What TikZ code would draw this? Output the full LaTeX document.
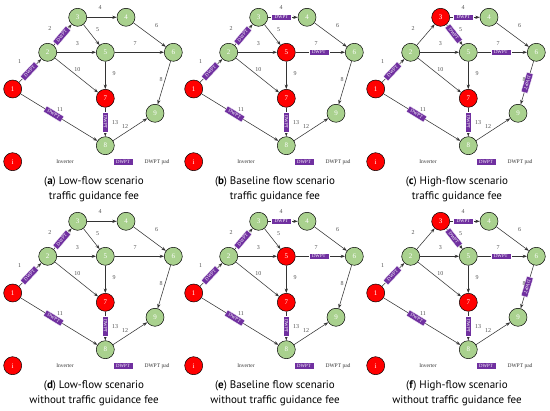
\documentclass[tikz,border=0pt]{standalone}
\usepackage{fontspec}
\setmainfont{Liberation Serif}
\newfontfamily\capfont{PT Sans}
\usetikzlibrary{arrows.meta}
\definecolor{ngreen}{RGB}{169,209,142}
\definecolor{nred}{RGB}{255,0,0}
\definecolor{dpurple}{RGB}{112,48,160}
\definecolor{elab}{RGB}{80,80,80}
\tikzset{
 vtx/.style={circle,draw=black,line width=0.5pt,minimum size=18pt,inner sep=0pt,font=\fontsize{7}{7}\selectfont,text=white,fill=ngreen},
 hot/.style={fill=nred},
 edg/.style={draw=black!80,line width=0.55pt,-{Stealth[length=4.5pt,width=3.2pt]}},
 pad/.style={fill=dpurple,draw=white,line width=0.3pt,text=white,font=\fontsize{4.8}{5}\selectfont,minimum width=20pt,minimum height=6.5pt,inner sep=0pt},
 elbl/.style={text=elab,font=\fontsize{6}{6}\selectfont,inner sep=0pt},
 legtxt/.style={text=black!80,font=\fontsize{5.5}{6}\selectfont,inner sep=0pt},
 captxt/.style={font=\capfont\fontsize{11}{13}\selectfont,inner sep=0pt},
 onedge/.style={pad,sloped,allow upside down,pos=#1},
}
% #1 prefix, #2 xoff, #3 yoff, #4 type (1 low, 2 base, 3 high), #5 caption line 1, #6 caption line 2
\newcommand\drawpanel[6]{%
\begin{scope}[shift={(#2,#3)}]
 \ifnum#4=3 \tikzset{nthree/.style={hot}}\else\tikzset{nthree/.style={}}\fi
 \ifnum#4=2 \tikzset{nfive/.style={hot}}\else\tikzset{nfive/.style={}}\fi
 \node[vtx,hot] (#1n1) at (12.7,89) {1};
 \node[vtx] (#1n2) at (47.7,52.3) {2};
 \node[vtx,nthree] (#1n3) at (77.7,17.3) {3};
 \node[vtx] (#1n4) at (126,17.3) {4};
 \node[vtx,nfive] (#1n5) at (105.3,52.3) {5};
 \node[vtx] (#1n6) at (173.3,52.3) {6};
 \node[vtx,hot] (#1n7) at (105.3,98.3) {7};
 \node[vtx] (#1n8) at (105.3,145.7) {8};
 \node[vtx] (#1n9) at (155,113.3) {9};
 \draw[edg] (#1n1) -- (#1n2);
 \draw[edg] (#1n2) -- (#1n3);
 \draw[edg] (#1n2) -- (#1n5);
 \draw[edg] (#1n3) -- (#1n4);
 \draw[edg] (#1n3) -- (#1n5);
 \draw[edg] (#1n4) -- (#1n6);
 \draw[edg] (#1n5) -- (#1n6);
 \draw[edg] (#1n6) -- (#1n9);
 \draw[edg] (#1n5) -- (#1n7);
 \draw[edg] (#1n2) -- (#1n7);
 \draw[edg] (#1n1) -- (#1n8);
 \draw[edg] (#1n8) -- (#1n9);
 \draw[edg] (#1n7) -- (#1n8);
 \path (#1n1) -- (#1n2) node[onedge=0.47] (#1p1) {DWPT};
 \path (#1n1) -- (#1n8) node[onedge=0.43] (#1p11) {DWPT};
 \path (#1n7) -- (#1n8) node[onedge=0.5] (#1p13) {DWPT};
 \ifnum#4<3 \path (#1n2) -- (#1n3) node[onedge=0.45] (#1p2) {DWPT};\fi
 \ifnum#4>1 \path (#1n3) -- (#1n4) node[onedge=0.45] (#1p4) {DWPT};
   \path (#1n5) -- (#1n6) node[onedge=0.47] (#1p7) {DWPT};\fi
 \ifnum#4=3 \path (#1n3) -- (#1n5) node[onedge=0.45] (#1p5) {DWPT};
   \path (#1n6) -- (#1n9) node[onedge=0.5] (#1p8) {DWPT};\fi
 \node[elbl] (#1l1) at (19.5,61.5) {1};
 \node[elbl] (#1l2) at (50,28.5) {2};
 \node[elbl] (#1l3) at (77.3,44) {3};
 \node[elbl] (#1l4) at (100,7.3) {4};
 \node[elbl] (#1l5) at (97.7,29.3) {5};
 \node[elbl] (#1l6) at (156.7,26) {6};
 \node[elbl] (#1l7) at (135,44) {7};
 \node[elbl] (#1l8) at (161,80) {8};
 \node[elbl] (#1l9) at (114,74) {9};
 \node[elbl] (#1l10) at (77.3,70) {10};
 \node[elbl] (#1l11) at (60,109.3) {11};
 \node[elbl] (#1l12) at (125,126.7) {12};
 \node[elbl] (#1l13) at (115,122.7) {13};
 \node[vtx,hot] (#1li) at (12.7,161.7) {i};
 \node[legtxt] (#1lt) at (65,161.7) {Inverter};
 \node[pad] (#1lp) at (123,161.7) {DWPT};
 \node[legtxt] (#1lpt) at (157,161.7) {DWPT pad};
 \node[captxt] (#1c1) at (94,182) {#5};
 \node[captxt] (#1c2) at (94,197) {#6};
\end{scope}}
\begin{document}
\begin{tikzpicture}[x=1pt,y=-1pt]
\useasboundingbox (0,0) rectangle (550,411);
\drawpanel{a}{0}{0}{1}{(\textbf{a}) Low-flow scenario}{traffic guidance fee}
\drawpanel{b}{181}{0}{2}{(\textbf{b}) Baseline flow scenario}{traffic guidance fee}
\drawpanel{c}{363}{0}{3}{(\textbf{c}) High-flow scenario}{traffic guidance fee}
\drawpanel{d}{0}{204}{1}{(\textbf{d}) Low-flow scenario}{without traffic guidance fee}
\drawpanel{e}{181}{204}{2}{(\textbf{e}) Baseline flow scenario}{without traffic guidance fee}
\drawpanel{f}{363}{204}{3}{(\textbf{f}) High-flow scenario}{without traffic guidance fee}
\end{tikzpicture}
\end{document}
